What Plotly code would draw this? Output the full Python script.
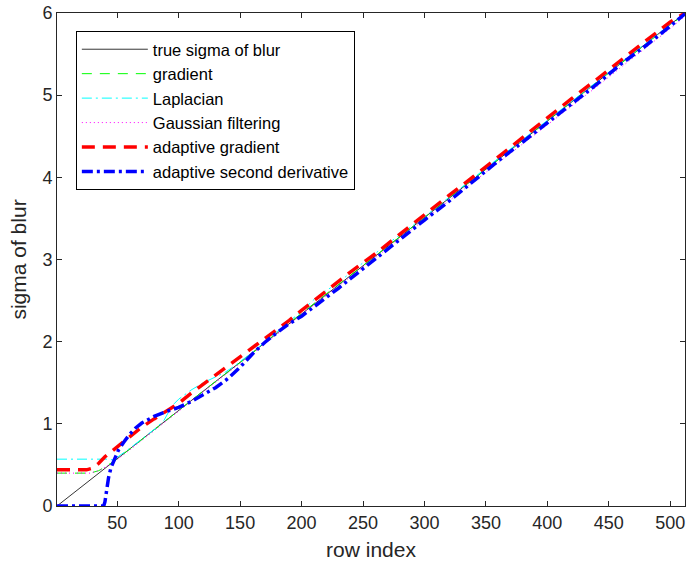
import plotly.graph_objects as go

# ---- data ----
true_x = [1, 512]
true_y = [0.0, 6.0]

grad_x = [1, 28, 35, 47, 60, 80, 100, 120, 140, 160, 180, 200, 220, 240, 260, 280, 300, 320, 340, 360, 380, 400, 420, 440, 460, 480, 500, 512]
grad_y = [0.40, 0.40, 0.43, 0.54, 0.69, 0.93, 1.16, 1.40, 1.63, 1.86, 2.11, 2.35, 2.58, 2.81, 3.04, 3.28, 3.51, 3.75, 3.98, 4.22, 4.45, 4.69, 4.92, 5.15, 5.39, 5.62, 5.86, 5.98]

lap_x = [1, 38, 42, 47, 60, 80, 88, 92, 96, 100, 110, 120, 130, 137, 145, 160, 180, 200, 212, 230, 250, 270, 300, 320, 340, 360, 380, 400, 420, 440, 460, 480, 500, 512]
lap_y = [0.57, 0.57, 0.57, 0.56, 0.70, 0.93, 1.04, 1.15, 1.24, 1.30, 1.41, 1.50, 1.57, 1.62, 1.70, 1.87, 2.12, 2.37, 2.54, 2.72, 2.96, 3.19, 3.52, 3.76, 3.99, 4.23, 4.46, 4.69, 4.93, 5.16, 5.40, 5.63, 5.87, 6.0]

gauss_x = [1, 28, 35, 47, 60, 80, 100, 120, 140, 160, 180, 200, 220, 240, 260, 280, 300, 320, 340, 360, 380, 400, 420, 440, 460, 480, 500, 512]
gauss_y = [0.40, 0.40, 0.43, 0.53, 0.68, 0.92, 1.15, 1.39, 1.62, 1.85, 2.09, 2.33, 2.56, 2.79, 3.02, 3.25, 3.48, 3.71, 3.94, 4.17, 4.40, 4.63, 4.87, 5.10, 5.34, 5.57, 5.81, 5.96]

agrad_x = [1, 25, 30, 35, 40, 45, 50, 60, 70, 80, 90, 100, 110, 120, 130, 140, 150, 160, 170, 180, 190, 200, 220, 240, 260, 280, 300, 320, 340, 360, 380, 400, 420, 440, 460, 480, 500, 512]
agrad_y = [0.44, 0.44, 0.46, 0.52, 0.60, 0.66, 0.72, 0.84, 0.96, 1.06, 1.15, 1.25, 1.37, 1.48, 1.59, 1.70, 1.81, 1.92, 2.03, 2.14, 2.26, 2.38, 2.62, 2.85, 3.07, 3.31, 3.54, 3.78, 4.01, 4.25, 4.49, 4.72, 4.96, 5.19, 5.43, 5.66, 5.89, 6.0]

asec_x = [1, 39, 40, 41, 42, 43, 45, 48, 51, 55, 60, 65, 70, 75, 80, 90, 100, 110, 120, 130, 140, 150, 160, 170, 180, 190, 200, 210, 220, 230, 240, 250, 260, 280, 300, 320, 340, 360, 380, 400, 420, 440, 460, 480, 500, 512]
asec_y = [0.0, 0.0, 0.05, 0.15, 0.25, 0.35, 0.47, 0.58, 0.68, 0.77, 0.87, 0.95, 1.01, 1.05, 1.09, 1.15, 1.20, 1.27, 1.35, 1.44, 1.55, 1.69, 1.85, 1.99, 2.11, 2.22, 2.31, 2.42, 2.53, 2.65, 2.77, 2.89, 3.00, 3.25, 3.48, 3.71, 3.96, 4.20, 4.43, 4.66, 4.90, 5.13, 5.38, 5.60, 5.84, 5.99]

x_ticks = [50, 100, 150, 200, 250, 300, 350, 400, 450, 500]
y_ticks = [0, 1, 2, 3, 4, 5, 6]

FONT = "Liberation Sans, Arial, Helvetica, sans-serif"
AX = "#262626"

fig = go.Figure()
fig.add_trace(go.Scatter(x=true_x, y=true_y, mode="lines", name="true sigma of blur",
                         line=dict(color="black", width=0.8)))
fig.add_trace(go.Scatter(x=grad_x, y=grad_y, mode="lines", name="gradient",
                         line=dict(color="#00ff00", width=1, dash="10px,8px")))
fig.add_trace(go.Scatter(x=lap_x, y=lap_y, mode="lines", name="Laplacian",
                         line=dict(color="#00ffff", width=1, dash="10px,4px,2px,4px")))
fig.add_trace(go.Scatter(x=gauss_x, y=gauss_y, mode="lines", name="Gaussian filtering",
                         line=dict(color="#ff00ff", width=1, dash="1px,3px")))
fig.add_trace(go.Scatter(x=agrad_x, y=agrad_y, mode="lines", name="adaptive gradient",
                         line=dict(color="#ff0000", width=3.5, dash="13px,8px")))
fig.add_trace(go.Scatter(x=asec_x, y=asec_y, mode="lines", name="adaptive second derivative",
                         line=dict(color="#0000ff", width=3.5, dash="11px,4px,3px,4px")))

fig.update_layout(
    width=687, height=570,
    margin=dict(l=57, r=2, t=13, b=64),
    paper_bgcolor="white", plot_bgcolor="white",
    font=dict(family=FONT, size=18, color=AX),
    showlegend=True,
    legend=dict(x=0.030, y=0.9635, xanchor="left", yanchor="top",
                bgcolor="white", bordercolor="black", borderwidth=1,
                font=dict(family=FONT, size=16.5, color="black"),
                tracegroupgap=0, itemwidth=66),
    xaxis=dict(range=[1, 512], tickvals=x_ticks, ticks="inside", ticklen=5,
               tickcolor=AX, showline=True, linecolor=AX, linewidth=1, mirror="ticks",
               showgrid=False, zeroline=False,
               title=dict(text="row index", font=dict(size=21, family=FONT, color=AX), standoff=10),
               tickfont=dict(size=18, family=FONT, color=AX)),
    yaxis=dict(range=[0, 6], tickvals=y_ticks, ticks="inside", ticklen=5,
               tickcolor=AX, showline=True, linecolor=AX, linewidth=1, mirror="ticks",
               showgrid=False, zeroline=False,
               title=dict(text="sigma of blur", font=dict(size=21, family=FONT, color=AX), standoff=10),
               tickfont=dict(size=18, family=FONT, color=AX)),
)

fig.write_html("out.html")
